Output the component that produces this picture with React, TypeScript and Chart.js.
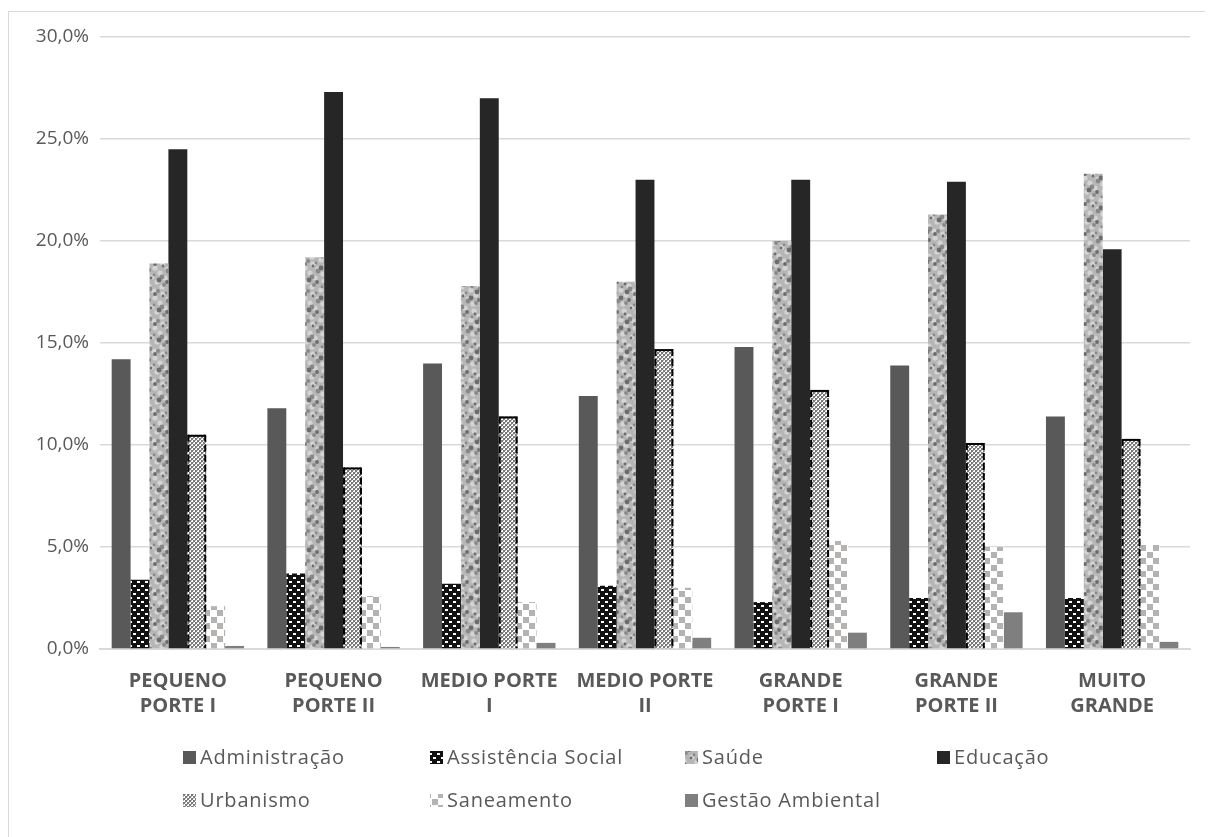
import React, { useEffect, useRef } from "react";
import { Chart, registerables } from "chart.js";

Chart.register(...registerables);

const categories: string[][] = [
  ["PEQUENO", "PORTE I"],
  ["PEQUENO", "PORTE II"],
  ["MEDIO PORTE", "I"],
  ["MEDIO PORTE", "II"],
  ["GRANDE", "PORTE I"],
  ["GRANDE", "PORTE II"],
  ["MUITO", "GRANDE"],
];

const seriesNames = [
  "Administração",
  "Assistência Social",
  "Saúde",
  "Educação",
  "Urbanismo",
  "Saneamento",
  "Gestão Ambiental",
];

const administracao = [14.2, 11.8, 14.0, 12.4, 14.8, 13.9, 11.4];
const assistenciaSocial = [3.4, 3.7, 3.2, 3.1, 2.3, 2.5, 2.5];
const saude = [18.9, 19.2, 17.8, 18.0, 20.0, 21.3, 23.3];
const educacao = [24.5, 27.3, 27.0, 23.0, 23.0, 22.9, 19.6];
const urbanismo = [10.5, 8.9, 11.4, 14.7, 12.7, 10.1, 10.3];
const saneamento = [2.1, 2.6, 2.3, 3.0, 5.3, 5.0, 5.1];
const gestaoAmbiental = [0.15, 0.1, 0.3, 0.55, 0.8, 1.8, 0.35];

const yTicks = [0, 5, 10, 15, 20, 25, 30];

const TEXT = "#595959";
const FONT = "'Open Sans', 'Noto Sans', sans-serif";

function makeTile(w: number, h: number, draw: (c: CanvasRenderingContext2D) => void): CanvasPattern | string {
  const cv = document.createElement("canvas");
  cv.width = w;
  cv.height = h;
  const c = cv.getContext("2d")!;
  draw(c);
  const p = document.createElement("canvas").getContext("2d")!.createPattern(cv, "repeat");
  return p || "#888";
}

function assistPattern() {
  return makeTile(8, 8, (c) => {
    c.fillStyle = "#111";
    c.fillRect(0, 0, 8, 8);
    c.fillStyle = "#fff";
    c.fillRect(0, 1, 3, 2);
    c.fillRect(4, 5, 3, 2);
  });
}

function saudePattern() {
  const N = 30;
  return makeTile(N, N, (c) => {
    c.fillStyle = "#b6b6b6";
    c.fillRect(0, 0, N, N);
    const blob = (cx: number, cy: number, r: number, col: string) => {
      c.fillStyle = col;
      for (const dx of [-N, 0, N]) {
        for (const dy of [-N, 0, N]) {
          c.beginPath();
          c.arc(cx + dx, cy + dy, r, 0, Math.PI * 2);
          c.fill();
        }
      }
    };
    for (let i = 0; i < 14; i++) {
      blob((i * 11 + 3) % N, (i * 17 + 5) % N, 2.6, "#d4d4d4");
    }
    for (let i = 0; i < 18; i++) {
      blob((i * 13 + 7) % N, (i * 7 + 11) % N, 1.4 + (i % 3) * 0.5, i % 2 ? "#6c6c6c" : "#888888");
    }
  });
}

function urbanPattern() {
  return makeTile(4, 4, (c) => {
    c.fillStyle = "#ffffff";
    c.fillRect(0, 0, 4, 4);
    c.fillStyle = "#7a7a7a";
    c.fillRect(0, 0, 2, 2);
    c.fillRect(2, 2, 2, 2);
    c.fillStyle = "#b0b0b0";
    c.fillRect(2, 0, 1, 1);
    c.fillRect(0, 2, 1, 1);
  });
}

function saneamentoPattern() {
  return makeTile(13, 13, (c) => {
    c.fillStyle = "#ffffff";
    c.fillRect(0, 0, 13, 13);
    c.fillStyle = "#b5b2b2";
    c.fillRect(0, 0, 6, 6);
    c.fillRect(7, 7, 6, 6);
  });
}

const urbanBorderPlugin = {
  id: "urbanBorder",
  afterDatasetsDraw(chart: any) {
    const meta = chart.getDatasetMeta(4);
    const ctx = chart.ctx;
    ctx.save();
    ctx.strokeStyle = "#000";
    meta.data.forEach((el: any) => {
      const { x, y, base, width } = el.getProps(["x", "y", "base", "width"], true);
      const l = x - width / 2 + 1;
      const r = x + width / 2 - 1;
      ctx.lineWidth = 2;
      ctx.setLineDash([]);
      ctx.beginPath();
      ctx.moveTo(l, y + 1);
      ctx.lineTo(r, y + 1);
      ctx.stroke();
      ctx.setLineDash([7, 3]);
      ctx.beginPath();
      ctx.moveTo(l, y);
      ctx.lineTo(l, base);
      ctx.moveTo(r, y);
      ctx.lineTo(r, base);
      ctx.stroke();
    });
    ctx.restore();
  },
};

const gridLegendPlugin = {
  id: "gridLegend",
  afterDraw(chart: any) {
    const ctx = chart.ctx;
    const colX = [174, 421, 676, 928];
    const rowY = [745, 788];
    ctx.save();
    ctx.font = `20px ${FONT}`;
    try {
      (ctx as any).letterSpacing = "0.8px";
    } catch (e) {}
    ctx.textBaseline = "middle";
    ctx.textAlign = "left";
    chart.data.datasets.forEach((ds: any, i: number) => {
      const col = i < 4 ? i : i - 4;
      const row = i < 4 ? 0 : 1;
      const x = colX[col];
      const y = rowY[row];
      ctx.fillStyle = ds.backgroundColor;
      ctx.fillRect(x, y - 6, 13, 13);
      ctx.fillStyle = TEXT;
      ctx.fillText(ds.label, x + 17, y + 1);
    });
    ctx.restore();
  },
};

export default function App() {
  const ref = useRef<HTMLCanvasElement>(null);
  useEffect(() => {
    const fills = [
      "#595959",
      assistPattern(),
      saudePattern(),
      "#262626",
      urbanPattern(),
      saneamentoPattern(),
      "#7f7f7f",
    ];
    const values = [administracao, assistenciaSocial, saude, educacao, urbanismo, saneamento, gestaoAmbiental];
    const chart = new Chart(ref.current!, {
      type: "bar",
      data: {
        labels: categories,
        datasets: values.map((v, i) => ({
          label: seriesNames[i],
          data: v,
          backgroundColor: fills[i] as any,
          borderWidth: 0,
          categoryPercentage: 0.85,
          barPercentage: 1,
        })),
      },
      options: {
        animation: false,
        responsive: false,
        maintainAspectRatio: false,
        layout: { padding: { left: 14, right: 23, top: 25, bottom: 118 } },
        plugins: {
          legend: { display: false },
          tooltip: { enabled: false },
        },
        scales: {
          x: {
            grid: { display: false },
            border: { display: true, color: "#d9d9d9", width: 2 },
            ticks: {
              color: TEXT,
              font: { family: FONT, size: 20, weight: "bold", lineHeight: 1.25 },
              padding: 12,
              maxRotation: 0,
              autoSkip: false,
            },
            afterFit: (s: any) => {
              s.height = 70;
            },
          },
          y: {
            min: 0,
            max: 30,
            afterBuildTicks: (s: any) => {
              s.ticks = yTicks.map((v) => ({ value: v }));
            },
            grid: { color: "#d9d9d9", lineWidth: 1.5, drawTicks: false },
            border: { display: false },
            ticks: {
              color: TEXT,
              font: { family: FONT, size: 19 },
              padding: 11,
              callback: (v: any) => Number(v).toFixed(1).replace(".", ",") + "%",
            },
            afterFit: (s: any) => {
              s.width = 77;
            },
          },
        },
      },
      plugins: [urbanBorderPlugin, gridLegendPlugin],
    });
    return () => chart.destroy();
  }, []);
  return (
    <div
      style={{
        marginTop: 3,
        width: 1220,
        height: 840,
        border: "1px solid #d9d9d9",
        boxSizing: "border-box",
        background: "#fff",
      }}
    >
      <canvas ref={ref} width={1204} height={825} style={{ display: "block" }} />
    </div>
  );
}
